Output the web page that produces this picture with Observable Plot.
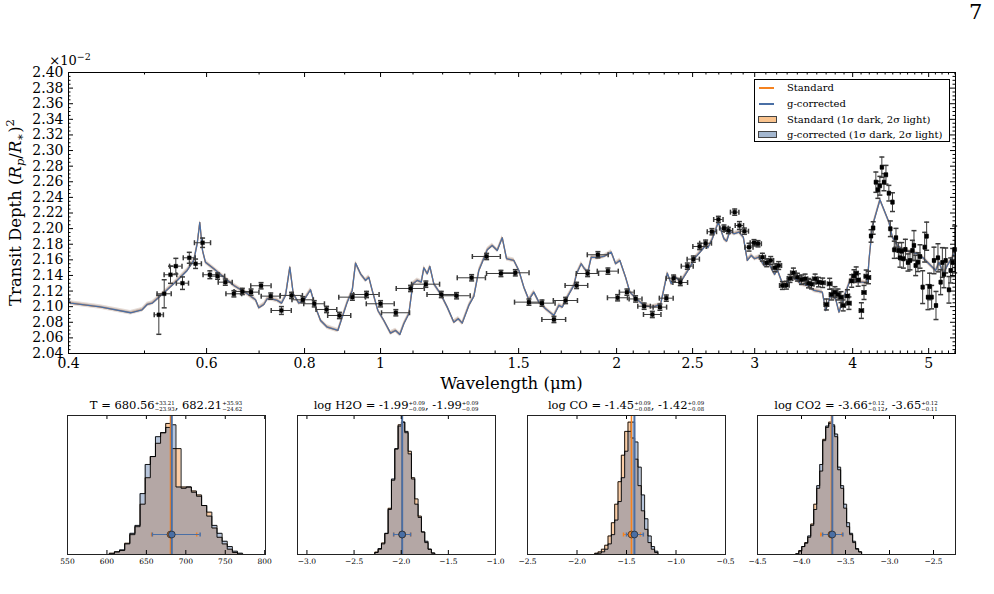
<!DOCTYPE html>
<html><head><meta charset="utf-8">
<script src="https://cdn.jsdelivr.net/npm/d3@7"></script>
<script src="https://cdn.jsdelivr.net/npm/@observablehq/plot@0.6"></script>
<style>
html,body{margin:0;padding:0;background:#fff}
body{width:994px;height:594px;position:relative;overflow:hidden;font-family:"DejaVu Serif",serif;color:#000}
.abs{position:absolute}
#legend{position:absolute;left:754px;top:79px;width:196px;height:63px;border:1px solid #000;background:#fff;box-sizing:border-box;font-size:10px}
#legend .row{position:absolute;left:0;height:12px;line-height:12px;width:100%}
#legend .ln{position:absolute;left:4px;top:5px;width:15px;height:2px}
#legend .pt{position:absolute;left:3px;top:2.5px;width:19px;height:7px;box-sizing:border-box;border:1px solid #444}
#legend .tx{position:absolute;left:32px;top:0;white-space:nowrap}
</style></head>
<body>
<div id="main" class="abs" style="left:0;top:0"></div>
<div id="p0" class="abs"></div><div id="p1" class="abs"></div><div id="p2" class="abs"></div><div id="p3" class="abs"></div>
<div class="abs" style="left:969px;top:0px;font-size:21px">7</div>
<div id="legend">
  <div class="row" style="top:2px"><div class="ln" style="background:#f5821f"></div><div class="tx">Standard</div></div>
  <div class="row" style="top:17.5px"><div class="ln" style="background:#4a6fa5"></div><div class="tx">g-corrected</div></div>
  <div class="row" style="top:33.5px"><div class="pt" style="background:#f9c38e"></div><div class="tx">Standard (1σ dark, 2σ light)</div></div>
  <div class="row" style="top:48.5px"><div class="pt" style="background:#a4b7cf"></div><div class="tx">g-corrected (1σ dark, 2σ light)</div></div>
</div>
<script>
// ---------------- main spectrum ----------------
const xTicks = [0.4, 0.6, 0.8, 1, 1.5, 2, 2.5, 3, 4, 5];
const yTicks = [2.04,2.06,2.08,2.10,2.12,2.14,2.16,2.18,2.20,2.22,2.24,2.26,2.28,2.30,2.32,2.34,2.36,2.38,2.40];

const wavelength = [0.5215,0.5298,0.5397,0.5482,0.5590,0.5703,0.5809,0.5930,0.6058,0.6197,
0.6339,0.6501,0.6664,0.6837,0.7041,0.7244,0.7474,0.7700,0.7960,0.8231,
0.8534,0.8862,0.9206,0.9597,1.0000,1.0459,1.0921,1.1423,1.1952,1.2501,
1.3066,1.3654,1.4240,1.4855,1.5460,1.6064,1.6639,1.7218,1.7783,1.8367,
1.8931,1.9497,2.0059,2.0615,2.1148,2.1683,2.2212,2.2713,2.3143,2.3643,
2.4114,2.4614,2.5053,2.5520,2.5974,2.6459,2.6967,2.7413,2.7768,2.8290,
2.8683,2.9108,2.9503,2.9938,3.0292,3.0686,3.1075,3.1444,3.1843,3.2191,
3.2541,3.2928,3.3278,3.3612,3.4008,3.4418,3.4785,3.5135,3.5446,3.5824,
3.6184,3.6627,3.7028,3.7389,3.7607,3.7973,3.8312,3.8651,3.8900,3.9384,
3.9566,3.9884,4.0156,4.0415,4.0653,4.1037,4.1354,4.1620,4.1900,4.2220,
4.2482,4.2819,4.3072,4.3327,4.3580,4.3850,4.4109,4.4486,4.4682,4.4960,
4.5200,4.5426,4.5746,4.5961,4.6192,4.6423,4.6698,4.7054,4.7333,4.7665,
4.7890,4.8130,4.8458,4.8745,4.9127,4.9418,4.9706,4.9897,5.0146,5.0442,
5.0786,5.1087,5.1385,5.1792,5.2051,5.2296,5.2558,5.3070,5.3336,5.3652,
5.3970];
const depth = [2.0896,2.1165,2.1409,2.1519,2.1301,2.1626,2.1550,2.1819,2.1409,2.1391,
2.1314,2.1165,2.1195,2.1186,2.1268,2.1135,2.0951,2.1144,2.1088,2.1037,
2.0964,2.0887,2.1122,2.1156,2.1037,2.0922,2.1233,2.1288,2.1156,2.1140,
2.1370,2.1643,2.1425,2.1434,2.1058,2.1045,2.0836,2.1079,2.1272,2.1425,
2.1665,2.1455,2.1114,2.1186,2.1099,2.1006,2.0900,2.0994,2.1109,2.1365,
2.1310,2.1519,2.1609,2.1771,2.1813,2.1960,2.2117,2.2006,2.1976,2.2211,
2.2040,2.1967,2.1762,2.1819,2.1806,2.1634,2.1562,2.1592,2.1498,2.1527,
2.1271,2.1275,2.1361,2.1434,2.1378,2.1345,2.1357,2.1301,2.1288,2.1357,
2.1314,2.1306,2.1028,2.1293,2.1156,2.1186,2.1156,2.1122,2.1016,2.1137,
2.1045,2.1329,2.1393,2.1429,2.1342,2.0950,2.1182,2.1389,2.1374,2.1906,
2.2008,2.2595,2.2498,2.2549,2.2787,2.2595,2.2690,2.2454,2.1998,2.2339,
2.1729,2.1883,2.1720,2.1626,2.1711,2.1614,2.1733,2.1566,2.1592,2.1720,
2.1784,2.1528,2.1570,2.1643,2.1250,2.1762,2.1903,2.1122,2.1259,2.1122,
2.1592,2.1015,2.1626,2.1314,2.1566,2.1413,2.1592,2.1216,2.1464,2.1566,
2.1733];
const depthErr = [.025,.018,.011,.010,.008,.007,.006,.006,.005,.004,
.004,.004,.004,.004,.004,.004,.005,.004,.004,.004,
.004,.004,.004,.004,.004,.004,.004,.004,.004,.004,
.004,.004,.004,.004,.004,.004,.004,.004,.004,.004,
.004,.004,.004,.004,.004,.004,.004,.004,.004,.004,
.004,.004,.004,.004,.004,.004,.004,.004,.004,.004,
.005,.004,.005,.004,.004,.005,.005,.005,.005,.005,
.005,.005,.005,.006,.005,.006,.006,.006,.006,.006,
.006,.006,.007,.007,.007,.007,.007,.007,.007,.008,
.008,.008,.008,.008,.008,.010,.009,.008,.008,.008,
.008,.013,.011,.012,.013,.011,.012,.010,.010,.012,
.011,.012,.010,.012,.011,.012,.013,.011,.012,.013,
.019,.013,.012,.015,.021,.019,.018,.016,.017,.015,
.017,.018,.018,.016,.019,.017,.016,.017,.016,.018,
.030];
const wlErr = [.007,.011,.010,.010,.010,.010,.010,.014,.012,.013,
.013,.015,.016,.016,.021,.020,.022,.025,.025,.025,
.026,.030,.036,.036,.041,.043,.045,.047,.049,.051,
.054,.056,.059,.061,.064,.063,.058,.061,.059,.060,
.058,.060,.059,.045,.040,.040,.057,.045,.047,.051,
.052,.043,.045,.050,.045,.036,.037,.035,.035,.035,
.035,.035,.035,.033,.030,.027,.027,.027,.027,.027,
.027,.027,.027,.027,.027,.027,.027,.027,.027,.027,
.027,.027,.025,.025,.025,.025,.025,.025,.025,.025,
.025,.025,.025,.025,.025,.025,.025,.025,.025,.012,
.012,.012,.012,.012,.012,.012,.012,.012,.012,.012,
.012,.012,.012,.012,.012,.012,.012,.012,.012,.012,
.012,.012,.012,.012,.012,.012,.012,.012,.012,.012,
.012,.012,.012,.012,.012,.012,.012,.012,.012,.012,
.012];

const modelWl = [0.400,0.4024,0.439,0.480,0.4966,0.504,0.5115,0.519,0.5345,0.5504,
0.5668,0.5779,0.5837,0.5882,0.5929,0.598,0.6129,0.6312,0.650,0.6761,
0.6928,0.6995,0.7099,0.717,0.7254,0.7383,0.7478,0.7566,0.7662,0.7739,
0.7867,0.7983,0.8142,0.8262,0.8385,0.8552,0.8822,0.8936,0.9069,0.9203,
0.9292,0.943,0.9569,0.9662,0.9759,0.9922,1.0098,1.0298,1.0451,1.0584,
1.0708,1.0867,1.0996,1.1138,1.127,1.1357,1.147,1.1558,1.1694,1.1927,
1.2164,1.2402,1.2564,1.2712,1.296,1.3152,1.3347,1.3481,1.3681,1.3882,
1.4088,1.4296,1.4478,1.4792,1.5011,1.5232,1.5458,1.5686,1.5919,1.6235,
1.6636,1.6883,1.7051,1.7303,1.7642,1.7782,1.8029,1.8205,1.8382,1.8567,
1.8897,1.9267,1.969,1.9942,2.0195,2.0535,2.0797,2.1148,2.167,2.221,
2.2758,2.3211,2.3484,2.3735,2.4137,2.4731,2.5223,2.5596,2.5976,2.615,
2.6492,2.6963,2.7409,2.7629,2.7895,2.8226,2.8644,2.9016,2.9358,2.9706,
2.9996,3.0376,3.0826,3.1282,3.1809,3.2065,3.2536,3.2952,3.334,3.3834,
3.4335,3.5018,3.5704,3.6594,3.695,3.7498,3.8053,3.8424,3.8992,3.9764,
4.0353,4.1156,4.1766,4.1962,4.2384,4.3339,4.4499,4.4946,4.5612,4.6505,
4.743,4.8369,4.9086,5.0298,5.1043,5.1541,5.221,5.2824,5.3607,5.41];
const modelDepth = [2.110,2.1045,2.0996,2.0922,2.0960,2.1028,2.1045,2.1101,2.1217,2.1336,
2.1464,2.1592,2.1806,2.2079,2.1720,2.1570,2.1485,2.1378,2.1272,2.1165,
2.1088,2.0986,2.1028,2.1101,2.1101,2.1080,2.1045,2.1144,2.1506,2.1165,
2.1045,2.1080,2.1217,2.0994,2.0823,2.0737,2.0695,2.0865,2.1058,2.1208,
2.1558,2.1421,2.1336,2.1378,2.1208,2.0951,2.0823,2.0661,2.0695,2.0644,
2.0781,2.0909,2.1293,2.1336,2.1314,2.1498,2.1421,2.1515,2.1293,2.1165,
2.0994,2.0801,2.0845,2.0789,2.1016,2.1131,2.1464,2.1570,2.1729,2.1784,
2.1720,2.1883,2.1614,2.1592,2.1464,2.1250,2.1088,2.1186,2.1058,2.0973,
2.0887,2.1016,2.0994,2.1122,2.1272,2.1421,2.1550,2.1485,2.1442,2.1634,
2.1627,2.1643,2.1698,2.1550,2.1592,2.1378,2.1186,2.1111,2.1016,2.0994,
2.1028,2.1429,2.1293,2.1387,2.1314,2.1485,2.1634,2.1707,2.1784,2.1755,
2.1870,2.2083,2.1870,2.1839,2.1967,2.1934,2.1955,2.1891,2.1592,2.1656,
2.1614,2.1634,2.1528,2.1550,2.1412,2.1473,2.1301,2.1293,2.1378,2.1357,
2.1293,2.1272,2.1208,2.1186,2.0951,2.1144,2.1101,2.0929,2.1122,2.1357,
2.1314,2.1314,2.1301,2.1592,2.2028,2.2370,2.2083,2.1891,2.1784,2.1720,
2.1698,2.1678,2.1634,2.1528,2.1464,2.1570,2.1421,2.1528,2.1634,2.1720];
const sigma1 = 0.0014, sigma2 = 0.003;

// ---------------- posterior panels ----------------
const tStart = 603, tBinW = 6.5;
const tOrange = [0.01,0.02,0.03,0.085,0.15,0.21,0.38,0.58,0.74,0.84,0.92,0.99,0.80,0.80,0.51,0.51,0.48,0.45,0.37,0.32,0.20,0.13,0.08,0.04,0.015,0.003];
const tBlue   = [0.005,0.02,0.035,0.08,0.16,0.22,0.46,0.68,0.74,0.89,0.92,0.96,0.98,0.51,0.50,0.51,0.47,0.44,0.37,0.29,0.22,0.16,0.10,0.06,0.025,0.01];
const tMed = [680.56, 682.21], tPlus = [33.21, 35.93], tMinus = [23.93, 24.62];

const h2oStart = -2.28, h2oBinW = 0.0353;
const h2oOrange = [0.018,0.04,0.087,0.158,0.349,0.561,0.796,0.98,1.0,0.92,0.78,0.58,0.42,0.29,0.17,0.09,0.04,0.01];
const h2oBlue   = [0.015,0.045,0.08,0.16,0.34,0.57,0.80,0.97,1.0,0.93,0.76,0.57,0.38,0.28,0.17,0.10,0.04,0.012];
const h2oMed = [-1.99, -1.99], h2oPlus = [0.09, 0.09], h2oMinus = [0.09, 0.09];

const coStart = -1.821, coBinW = 0.0336;
const coOrange = [0.01,0.02,0.04,0.07,0.14,0.24,0.38,0.55,0.75,0.93,1.0,0.88,0.72,0.52,0.33,0.19,0.09,0.04,0.015];
const coBlue   = [0.005,0.01,0.02,0.04,0.08,0.15,0.26,0.40,0.58,0.78,0.93,1.0,0.85,0.66,0.45,0.27,0.14,0.06,0.025];
const coMed = [-1.45, -1.42], coPlus = [0.09, 0.09], coMinus = [0.08, 0.08];

const co2Start = -4.065, co2BinW = 0.034;
const co2Orange = [0.005,0.03,0.06,0.09,0.13,0.23,0.38,0.50,0.63,0.87,0.96,1.0,0.97,0.89,0.64,0.50,0.35,0.21,0.15,0.09,0.04,0.02];
const co2Blue   = [0.005,0.025,0.06,0.085,0.14,0.22,0.34,0.52,0.68,0.86,0.97,0.99,0.98,0.91,0.66,0.52,0.38,0.24,0.16,0.10,0.045,0.02];
const co2Med = [-3.66, -3.65], co2Plus = [0.12, 0.12], co2Minus = [0.12, 0.11];

const ORANGE = "#f5821f", BLUE = "#4a6fa5";

// ---------------- build main plot ----------------
const pts = wavelength.map((w, i) => ({wl: w, d: depth[i], ye: depthErr[i], xe: wlErr[i]}));
const model = modelWl.map((w, i) => ({wl: w, d: modelDepth[i]}));
const FW = 887, FH = 281;
const capH = {draw(c) { c.moveTo(-2.5, 0); c.lineTo(2.5, 0); }};
const capV = {draw(c) { c.moveTo(0, -2.5); c.lineTo(0, 2.5); }};
const capVs = {draw(c) { c.moveTo(0, -2); c.lineTo(0, 2); }};
const xMinor = d3.range(5, 55).map(i => i / 10).filter(v => !xTicks.some(t => Math.abs(t - v) < 1e-9));
const yMinor = d3.range(2040, 2401, 5).map(v => v / 1000).filter(v => !yTicks.some(t => Math.abs(t - v) < 1e-9));
const ERR = "#3a3a3a";

const mainSvg = Plot.plot({
  width: 994, height: 400, marginLeft: 68, marginRight: 39, marginTop: 72, marginBottom: 47,
  style: {fontFamily: "DejaVu Serif, serif", fontSize: "14px", background: "transparent", overflow: "visible", color: "black"},
  x: {type: "log", domain: [0.4, 5.41], ticks: xTicks, tickFormat: d => String(d), tickSize: 0, tickPadding: 5, label: null},
  y: {domain: [2.04, 2.40], ticks: yTicks, tickFormat: d => d.toFixed(2), tickSize: 0, tickPadding: 5, label: null},
  marks: [
    Plot.areaY(model, {x: "wl", y1: d => d.d - sigma2, y2: d => d.d + sigma2, fill: ORANGE, fillOpacity: 0.14}),
    Plot.areaY(model, {x: "wl", y1: d => d.d - sigma2, y2: d => d.d + sigma2, fill: BLUE, fillOpacity: 0.14}),
    Plot.areaY(model, {x: "wl", y1: d => d.d - sigma1, y2: d => d.d + sigma1, fill: ORANGE, fillOpacity: 0.22}),
    Plot.areaY(model, {x: "wl", y1: d => d.d - sigma1, y2: d => d.d + sigma1, fill: BLUE, fillOpacity: 0.22}),
    Plot.line(model, {x: "wl", y: "d", stroke: ORANGE, strokeWidth: 1.2}),
    Plot.line(model, {x: "wl", y: "d", stroke: BLUE, strokeWidth: 1.3}),
    Plot.ruleY(pts, {y: "d", x1: d => d.wl - d.xe, x2: d => d.wl + d.xe, stroke: ERR, strokeWidth: 1}),
    Plot.ruleX(pts, {x: "wl", y1: d => d.d - d.ye, y2: d => d.d + d.ye, stroke: ERR, strokeWidth: 1}),
    Plot.dot(pts, {x: "wl", y: d => d.d + d.ye, symbol: capH, stroke: ERR, fill: "none"}),
    Plot.dot(pts, {x: "wl", y: d => d.d - d.ye, symbol: capH, stroke: ERR, fill: "none"}),
    Plot.dot(pts, {x: d => d.wl - d.xe, y: "d", symbol: capV, stroke: ERR, fill: "none"}),
    Plot.dot(pts, {x: d => d.wl + d.xe, y: "d", symbol: capV, stroke: ERR, fill: "none"}),
    Plot.dot(pts, {x: "wl", y: "d", symbol: "square", r: 2.2, fill: "black", stroke: "black", strokeWidth: 0.3}),
    Plot.ruleX(xTicks, {x: d => d, insetTop: FH - 5, stroke: "black"}),
    Plot.ruleX(xTicks, {x: d => d, insetBottom: FH - 5, stroke: "black"}),
    Plot.ruleX(xMinor, {x: d => d, insetTop: FH - 2.5, stroke: "black"}),
    Plot.ruleX(xMinor, {x: d => d, insetBottom: FH - 2.5, stroke: "black"}),
    Plot.ruleY(yTicks, {y: d => d, insetRight: FW - 5, stroke: "black"}),
    Plot.ruleY(yTicks, {y: d => d, insetLeft: FW - 5, stroke: "black"}),
    Plot.ruleY(yMinor, {y: d => d, insetRight: FW - 2.5, stroke: "black"}),
    Plot.ruleY(yMinor, {y: d => d, insetLeft: FW - 2.5, stroke: "black"}),
    Plot.frame({stroke: "black", strokeWidth: 1})
  ]
});
document.getElementById("main").appendChild(mainSvg);
{
  const s = d3.select(mainSvg);
  const yl = s.append("text").attr("transform", "translate(20.5,212.5) rotate(-90)")
    .attr("text-anchor", "middle").attr("font-size", 16.5).attr("fill", "black");
  yl.append("tspan").text("Transit Depth (");
  yl.append("tspan").attr("font-style", "italic").text("R");
  yl.append("tspan").attr("font-style", "italic").attr("font-size", 11.5).attr("dy", 3.5).text("p");
  yl.append("tspan").attr("dy", -3.5).text("/");
  yl.append("tspan").attr("font-style", "italic").text("R");
  yl.append("tspan").attr("font-size", 11.5).attr("dy", 3.5).text("∗");
  yl.append("tspan").attr("dy", -3.5).text(")");
  yl.append("tspan").attr("font-size", 11.5).attr("dy", -7).text("2");
  s.append("text").attr("x", 511.5).attr("y", 389).attr("text-anchor", "middle")
    .attr("font-size", 16.5).attr("fill", "black").text("Wavelength (μm)");
  const ex = s.append("text").attr("x", 70).attr("y", 64.5).attr("font-size", 13).attr("fill", "black");
  ex.append("tspan").text("×10");
  ex.append("tspan").attr("font-size", 9.5).attr("dy", -5).text("−2");
}

// ---------------- panels ----------------
function stepData(start, w, arr) {
  const a = [{x: start, y: 0}];
  arr.forEach((h, i) => a.push({x: start + i * w, y: h}));
  a.push({x: start + arr.length * w, y: 0});
  return a;
}
const panels = [
  {id: "p0", left: 67, domain: [550, 801], ticks: [550, 600, 650, 700, 750, 800], fmt: d3.format("d"),
   start: tStart, w: tBinW, orange: tOrange, blue: tBlue, med: tMed, plus: tPlus, minus: tMinus,
   name: "T = ", vals: ["680.56", "682.21"], sup: ["+33.21", "+35.93"], sub: ["−23.93", "−24.62"]},
  {id: "p1", left: 297, domain: [-3.1, -1.0], ticks: [-3.0, -2.5, -2.0, -1.5, -1.0], fmt: d3.format(".1f"),
   start: h2oStart, w: h2oBinW, orange: h2oOrange, blue: h2oBlue, med: h2oMed, plus: h2oPlus, minus: h2oMinus,
   name: "log H2O = ", vals: ["-1.99", "-1.99"], sup: ["+0.09", "+0.09"], sub: ["−0.09", "−0.09"]},
  {id: "p2", left: 527, domain: [-2.5, -0.5], ticks: [-2.5, -2.0, -1.5, -1.0, -0.5], fmt: d3.format(".1f"),
   start: coStart, w: coBinW, orange: coOrange, blue: coBlue, med: coMed, plus: coPlus, minus: coMinus,
   name: "log CO = ", vals: ["-1.45", "-1.42"], sup: ["+0.09", "+0.09"], sub: ["−0.08", "−0.08"]},
  {id: "p3", left: 757, domain: [-4.5, -2.25], ticks: [-4.5, -4.0, -3.5, -3.0, -2.5], fmt: d3.format(".1f"),
   start: co2Start, w: co2BinW, orange: co2Orange, blue: co2Blue, med: co2Med, plus: co2Plus, minus: co2Minus,
   name: "log CO2 = ", vals: ["-3.66", "-3.65"], sup: ["+0.12", "+0.12"], sub: ["−0.12", "−0.11"]}
];
const PW = 198, PH = 139, PML = 25, PMT = 20;
const yPos = 0.151;
for (const p of panels) {
  const oD = stepData(p.start, p.w, p.orange);
  const bD = stepData(p.start, p.w, p.blue);
  const eO = [{m: p.med[0], lo: p.med[0] - p.minus[0], hi: p.med[0] + p.plus[0]}];
  const eB = [{m: p.med[1], lo: p.med[1] - p.minus[1], hi: p.med[1] + p.plus[1]}];
  const svg = Plot.plot({
    width: PW + 2 * PML, height: PMT + PH + 20, marginLeft: PML, marginRight: PML, marginTop: PMT, marginBottom: 20,
    style: {fontFamily: "DejaVu Serif, serif", fontSize: "7.5px", background: "transparent", overflow: "visible", color: "black"},
    x: {domain: p.domain, ticks: p.ticks, tickFormat: p.fmt, tickSize: 0, tickPadding: 4, label: null},
    y: {domain: [0, 1.05], axis: null},
    marks: [
      Plot.areaY(oD, {x: "x", y: "y", curve: "step-after", fill: ORANGE, fillOpacity: 0.4}),
      Plot.areaY(bD, {x: "x", y: "y", curve: "step-after", fill: BLUE, fillOpacity: 0.4}),
      Plot.line(oD, {x: "x", y: "y", curve: "step-after", stroke: "black", strokeWidth: 0.9}),
      Plot.line(bD, {x: "x", y: "y", curve: "step-after", stroke: "black", strokeWidth: 0.9}),
      Plot.ruleX(eO, {x: "m", stroke: ORANGE, strokeWidth: 1.5}),
      Plot.ruleX(eB, {x: "m", stroke: BLUE, strokeWidth: 2}),
      Plot.ruleY(eO, {y: () => yPos, x1: "lo", x2: "hi", stroke: ORANGE, strokeWidth: 1}),
      Plot.dot(eO, {x: "lo", y: () => yPos, symbol: capVs, stroke: ORANGE, fill: "none"}),
      Plot.dot(eO, {x: "hi", y: () => yPos, symbol: capVs, stroke: ORANGE, fill: "none"}),
      Plot.ruleY(eB, {y: () => yPos, x1: "lo", x2: "hi", stroke: BLUE, strokeWidth: 1}),
      Plot.dot(eB, {x: "lo", y: () => yPos, symbol: capVs, stroke: BLUE, fill: "none"}),
      Plot.dot(eB, {x: "hi", y: () => yPos, symbol: capVs, stroke: BLUE, fill: "none"}),
      Plot.dot(eO, {x: "m", y: () => yPos, r: 3.4, fill: ORANGE, stroke: "#222", strokeWidth: 0.7}),
      Plot.dot(eB, {x: "m", y: () => yPos, r: 3.4, fill: BLUE, stroke: "#222", strokeWidth: 0.7}),
      Plot.ruleX(p.ticks, {x: d => d, insetTop: PH - 4, stroke: "black"}),
      Plot.ruleX(p.ticks, {x: d => d, insetBottom: PH - 4, stroke: "black"}),
      Plot.frame({stroke: "#222", strokeWidth: 1})
    ]
  });
  const host = document.getElementById(p.id);
  host.style.left = (p.left - PML) + "px";
  host.style.top = (415 - PMT) + "px";
  host.appendChild(svg);
  const s = d3.select(svg);
  const t = s.append("text").attr("x", PML + PW / 2).attr("y", 14).attr("text-anchor", "middle")
    .attr("font-size", 11.5).attr("fill", "black");
  t.append("tspan").text(p.name + p.vals[0]);
  const fs = 5.4;
  const a1 = t.append("tspan").attr("font-size", fs).attr("dy", -4).text(p.sup[0]);
  const w1 = a1.node().getComputedTextLength();
  t.append("tspan").attr("font-size", fs).attr("dx", -w1).attr("dy", 6).text(p.sub[0]);
  t.append("tspan").attr("dy", -2).text(", " + p.vals[1]);
  const a2 = t.append("tspan").attr("font-size", fs).attr("dy", -4).text(p.sup[1]);
  const w2 = a2.node().getComputedTextLength();
  t.append("tspan").attr("font-size", fs).attr("dx", -w2).attr("dy", 6).text(p.sub[1]);
}
</script>
</body></html>
